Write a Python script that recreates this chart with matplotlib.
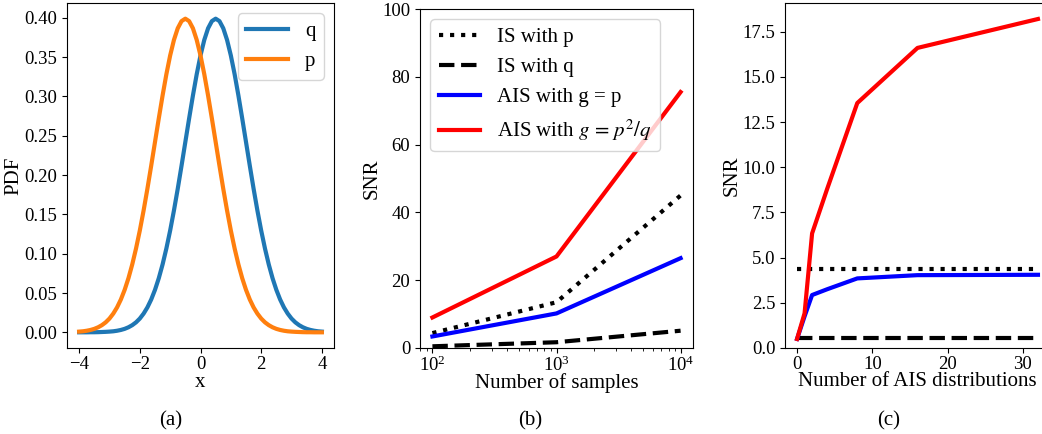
import matplotlib
matplotlib.use("Agg")
import matplotlib.pyplot as plt

plt.rcParams['font.family'] = ['Liberation Serif', 'DejaVu Serif']
plt.rcParams['mathtext.fontset'] = 'stix'

# ---- Panel (a) data: PDF values ----
x_a = [-4.0, -3.875, -3.75, -3.625, -3.5, -3.375, -3.25, -3.125, -3.0, -2.875,
       -2.75, -2.625, -2.5, -2.375, -2.25, -2.125, -2.0, -1.875, -1.75, -1.625,
       -1.5, -1.375, -1.25, -1.125, -1.0, -0.875, -0.75, -0.625, -0.5, -0.375,
       -0.25, -0.125, 0.0, 0.125, 0.25, 0.375, 0.5, 0.625, 0.75, 0.875, 1.0,
       1.125, 1.25, 1.375, 1.5, 1.625, 1.75, 1.875, 2.0, 2.125, 2.25, 2.375,
       2.5, 2.625, 2.75, 2.875, 3.0, 3.125, 3.25, 3.375, 3.5, 3.625, 3.75,
       3.875, 4.0]
pdf_q = [0.0000, 0.0000, 0.0000, 0.0001, 0.0001, 0.0002, 0.0004, 0.0006, 0.0009,
         0.0013, 0.0020, 0.0030, 0.0044, 0.0064, 0.0091, 0.0127, 0.0175, 0.0238,
         0.0317, 0.0417, 0.0540, 0.0688, 0.0863, 0.1066, 0.1295, 0.1550, 0.1826,
         0.2119, 0.2420, 0.2720, 0.3011, 0.3282, 0.3521, 0.3719, 0.3867, 0.3958,
         0.3989, 0.3958, 0.3867, 0.3719, 0.3521, 0.3282, 0.3011, 0.2720, 0.2420,
         0.2119, 0.1826, 0.1550, 0.1295, 0.1066, 0.0863, 0.0688, 0.0540, 0.0417,
         0.0317, 0.0238, 0.0175, 0.0127, 0.0091, 0.0064, 0.0044, 0.0030, 0.0020,
         0.0013, 0.0009]
pdf_p = [0.0009, 0.0013, 0.0020, 0.0030, 0.0044, 0.0064, 0.0091, 0.0127, 0.0175,
         0.0238, 0.0317, 0.0417, 0.0540, 0.0688, 0.0863, 0.1066, 0.1295, 0.1550,
         0.1826, 0.2119, 0.2420, 0.2720, 0.3011, 0.3282, 0.3521, 0.3719, 0.3867,
         0.3958, 0.3989, 0.3958, 0.3867, 0.3719, 0.3521, 0.3282, 0.3011, 0.2720,
         0.2420, 0.2119, 0.1826, 0.1550, 0.1295, 0.1066, 0.0863, 0.0688, 0.0540,
         0.0417, 0.0317, 0.0238, 0.0175, 0.0127, 0.0091, 0.0064, 0.0044, 0.0030,
         0.0020, 0.0013, 0.0009, 0.0006, 0.0004, 0.0002, 0.0001, 0.0001, 0.0000,
         0.0000, 0.0000]

# ---- Panel (b) data: SNR vs number of samples ----
n_samples = [100, 1000, 10000]
snr_is_p = [4.4, 13.5, 45.0]
snr_is_q = [0.5, 1.7, 5.1]
snr_ais_p = [3.4, 10.2, 26.5]
snr_ais_opt = [9.0, 27.0, 75.5]

# ---- Panel (c) data: SNR vs number of AIS distributions ----
n_dists = [0, 1, 2, 4, 8, 16, 32]
snr_c_ais_p = [0.5, 1.75, 2.93, 3.25, 3.85, 4.03, 4.05]
snr_c_ais_opt = [0.5, 1.92, 6.34, 8.8, 13.55, 16.6, 18.2]
snr_c_is_p = [4.35] * len(n_dists)
snr_c_is_q = [0.53] * len(n_dists)

labels_b = ['IS with p', 'IS with q', 'AIS with g = p', r'AIS with $g\,=\,p^2/q$']
captions = ['(a)', '(b)', '(c)']

W, H = 1042, 434
fig = plt.figure(figsize=(W / 100, H / 100), dpi=100)

def box(l, r, t, b):
    return [l / W, 1 - b / H, (r - l) / W, (b - t) / H]

TICK = 13.5
LAB = 15
LEG = 15
LW = 3

# (a)
axa = fig.add_axes(box(67, 334, 3, 348))
axa.plot(x_a, pdf_q, color='tab:blue', lw=LW, label='q')
axa.plot(x_a, pdf_p, color='tab:orange', lw=LW, label='p')
axa.set_xlabel('x', fontsize=LAB)
axa.set_ylabel('PDF', fontsize=LAB)
axa.set_xticks([-4, -2, 0, 2, 4])
axa.set_yticks([0.0, 0.05, 0.10, 0.15, 0.20, 0.25, 0.30, 0.35, 0.40])
axa.tick_params(labelsize=TICK)
axa.tick_params(axis='x', pad=2)
axa.legend(loc='upper right', fontsize=LEG)
axa.yaxis.set_label_coords(-0.165, 0.5)
axa.xaxis.set_label_coords(0.5, -0.072)

# (b)
axb = fig.add_axes(box(420, 693, 9, 348))
axb.plot(n_samples, snr_is_p, 'k:', lw=LW, label=labels_b[0])
axb.plot(n_samples, snr_is_q, 'k--', lw=LW, label=labels_b[1])
axb.plot(n_samples, snr_ais_p, color='b', lw=LW, label=labels_b[2])
axb.plot(n_samples, snr_ais_opt, color='r', lw=LW, label=labels_b[3])
axb.set_xscale('log')
axb.set_ylim(0, 100)
axb.set_xlabel('Number of samples', fontsize=LAB)
axb.set_ylabel('SNR', fontsize=LAB)
axb.tick_params(labelsize=TICK)
axb.tick_params(axis='x', pad=2)
axb.legend(loc='upper left', fontsize=LEG)
axb.yaxis.set_label_coords(-0.139, 0.5)
axb.xaxis.set_label_coords(0.5, -0.074)

# (c)
axc = fig.add_axes(box(785, 1050, 3, 348))
axc.plot(n_dists, snr_c_is_p, 'k:', lw=LW)
axc.plot(n_dists, snr_c_is_q, 'k--', lw=LW)
axc.plot(n_dists, snr_c_ais_p, color='b', lw=LW)
axc.plot(n_dists, snr_c_ais_opt, color='r', lw=LW)
axc.set_ylim(bottom=0)
axc.set_xticks([0, 10, 20, 30])
axc.set_yticks([0, 2.5, 5, 7.5, 10, 12.5, 15, 17.5])
axc.set_xlabel('Number of AIS distributions', fontsize=LAB)
axc.set_ylabel('SNR', fontsize=LAB)
axc.tick_params(labelsize=TICK)
axc.tick_params(axis='x', pad=2)
axc.yaxis.set_label_coords(-0.162, 0.5)
axc.xaxis.set_label_coords(0.5, -0.07)

for xc, cap in zip([171, 530, 889], captions):
    fig.text(xc / W, 1 - 421 / H, cap, ha='center', va='center', fontsize=LAB)

fig.savefig('out.png', dpi=100)
